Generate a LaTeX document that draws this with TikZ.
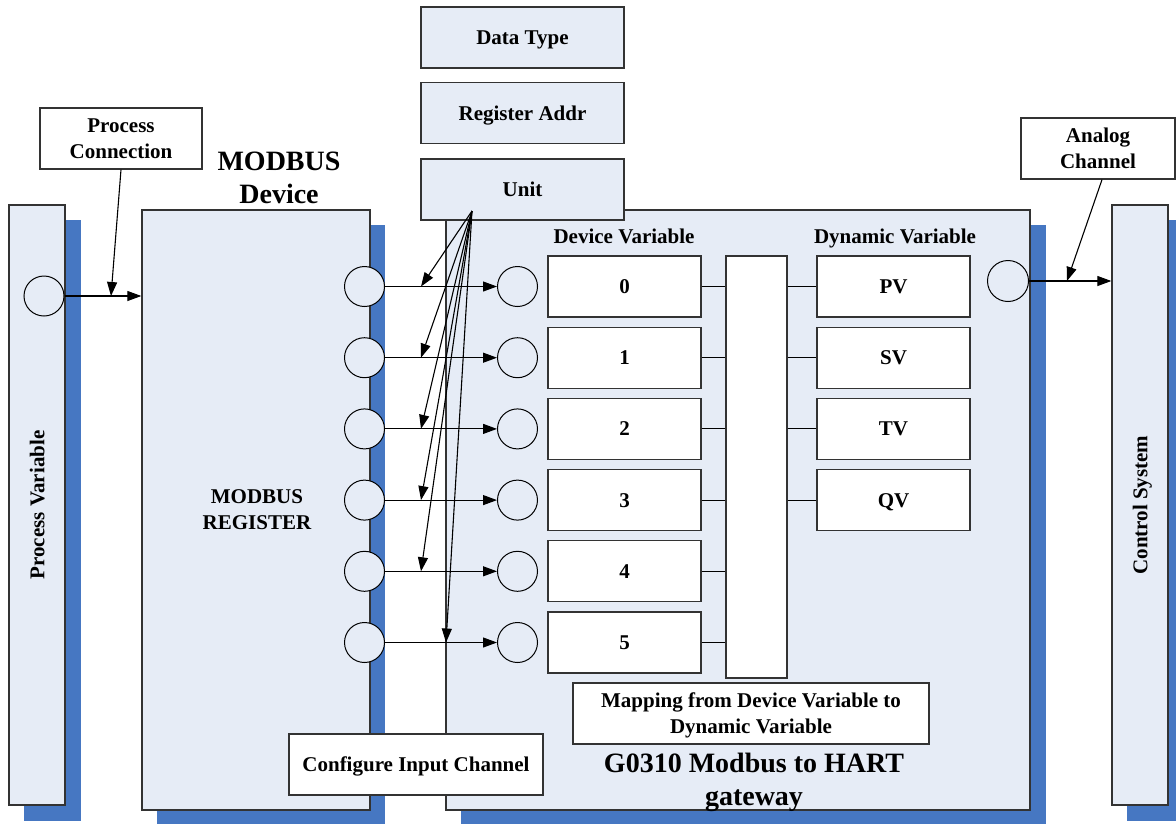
\documentclass[tikz,border=0pt]{standalone}
\usepackage{fontspec}
\setmainfont{Liberation Serif}
\usetikzlibrary{arrows.meta}
\definecolor{panelfill}{HTML}{E6ECF6}
\definecolor{shadowblue}{HTML}{4677C2}
\definecolor{edgegray}{HTML}{333333}
\newcommand{\lblfont}{\fontsize{21}{26}\selectfont\bfseries}
\newcommand{\titlefont}{\fontsize{28}{33}\selectfont\bfseries}

\begin{document}
\begin{tikzpicture}[
      x=1pt, y=-1pt,
      every node/.style={inner sep=0pt,font=\lblfont,align=center,text depth=0pt},
      panel/.style={draw=edgegray,fill=panelfill,line width=1.3pt},
      whitebox/.style={draw=edgegray,fill=white,line width=1.3pt,
        minimum width=153pt,minimum height=61pt},
      topbox/.style={panel,minimum width=203pt,minimum height=61pt},
      port/.style={circle,draw=black,fill=panelfill,line width=1pt,minimum size=40pt},
      arr/.style={line width=1.1pt,-{Triangle[length=14pt,width=10pt]}},
      wire/.style={line width=1.1pt}
    ]
      \useasboundingbox (0,0) rectangle (1176,823);
      % shadows
      \fill[shadowblue] (24,220) rectangle (81,821);
      \fill[shadowblue] (157,225) rectangle (385,830);
      \fill[shadowblue] (461,225) rectangle (1046,830);
      \fill[shadowblue] (1127,220) rectangle (1184,821);
      % panels
      \node[panel,minimum width=56pt,minimum height=600pt] (pv) at (37,505) {};
      \node[rotate=90] at (pv.center) {Process Variable};
      \node[panel,minimum width=228pt,minimum height=600pt] (mb) at (256,510) {};
      \node (mbreg) at (257,509.5) {MODBUS\\REGISTER};
      \node[panel,minimum width=584pt,minimum height=600pt] (gw) at (738,510) {};
      \node[panel,minimum width=56pt,minimum height=600pt] (cs) at (1140,505) {};
      \node[rotate=90] at (cs.center) {Control System};
      \node[font=\titlefont] (mbtitle) at (279,178) {MODBUS\\Device};
      \node[font=\titlefont] (gwtitle) at (754,779) {G0310 Modbus to HART\\gateway};
      % configuration boxes
      \node[topbox] (dtype) at (522.5,37.5) {Data Type};
      \node[topbox] (regaddr) at (522.5,113) {Register Addr};
      \node[topbox] (unit) at (522.5,189.5) {Unit};
      \node[whitebox,minimum width=162pt] (pconn) at (121,138.5) {Process\\Connection};
      \node[whitebox,minimum width=154pt] (achan) at (1098,148.5) {Analog\\Channel};
      % variables
      \node (dvhead) at (624,236) {Device Variable};
      \node (dynhead) at (895,236) {Dynamic Variable};
      \node[draw=edgegray,fill=white,line width=1.3pt,minimum width=61pt,
        minimum height=422pt] (bar) at (756.5,467) {};
      \foreach \i in {0,...,5} {
        \node[port] (mbc\i) at (364.5,286.5+71.2*\i) {};
        \node[port] (dvc\i) at (517.5,286.5+71.2*\i) {};
        \node[whitebox] (dv\i) at (624.5,286.5+71.2*\i) {\i};
        \draw[arr] (mbc\i) -- (dvc\i);
        \draw[wire] (dv\i.east) -- (dv\i.east -| bar.west);
      }
      \foreach \v [count=\i from 0] in {PV,SV,TV,QV} {
        \node[whitebox] (dyn\i) at (893.5,286.5+71.2*\i) {\v};
        \draw[wire] (dyn\i.west -| bar.east) -- (dyn\i.west);
      }
      \node[whitebox,minimum width=356pt] (mapping) at (751,713.5)
        {Mapping from Device Variable to\\Dynamic Variable};
      \node[whitebox,minimum width=254pt] (cfg) at (416,764.5) {Configure Input Channel};
      % process side
      \node[port] (pvc) at (44,296) {};
      \draw[arr] (pvc.east) -- (pvc.east -| mb.west);
      \coordinate (pcin) at (111,296);
      \draw[arr] (pconn.south) -- (pcin);
      % control side
      \node[port,minimum size=41pt] (rc) at (1008,281) {};
      \draw[arr] (rc.east) -- (rc.east -| cs.west);
      \coordinate (acin) at (1067,281);
      \draw[arr] ([xshift=4pt]achan.south) -- (acin);
      % unit links
      \coordinate (usrc) at (472,211);
      \foreach \i in {0,...,4} {
        \coordinate (uin\i) at (421,286.5+71.2*\i);
        \draw[arr] (usrc) -- (uin\i);
      }
      \coordinate (uin5) at (446,642.5);
      \draw[arr] (usrc) -- (uin5);
    \end{tikzpicture}
\end{document}
